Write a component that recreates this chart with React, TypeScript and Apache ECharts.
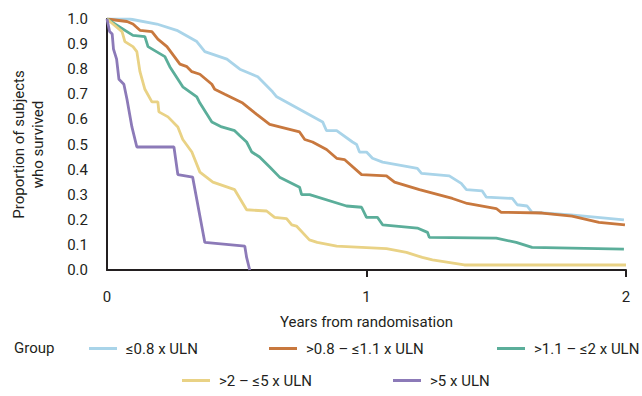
import React, { useEffect, useRef } from "react";
import * as echarts from "echarts";

const seriesNames = ["≤0.8 x ULN", ">0.8 – ≤1.1 x ULN", ">1.1 – ≤2 x ULN", ">2 – ≤5 x ULN", ">5 x ULN"];
const colors = ["#a9d4e9", "#c8783e", "#5bae9a", "#e9d285", "#8c7ab8"];

const blue: [number, number][] = [
  [0, 1.0], [0.088, 1.0], [0.192, 0.98], [0.269, 0.955], [0.346, 0.91], [0.377, 0.87], [0.462, 0.84],
  [0.512, 0.8], [0.581, 0.77], [0.638, 0.71], [0.654, 0.69], [0.831, 0.59], [0.846, 0.555], [0.885, 0.555],
  [0.946, 0.51], [0.962, 0.5], [0.973, 0.47], [1.0, 0.47], [1.023, 0.445], [1.062, 0.43], [1.196, 0.405],
  [1.212, 0.385], [1.319, 0.375], [1.365, 0.345], [1.385, 0.32], [1.446, 0.315], [1.462, 0.29],
  [1.562, 0.285], [1.581, 0.26], [1.619, 0.255], [1.638, 0.23], [1.788, 0.22], [1.992, 0.2],
];

const orange: [number, number][] = [
  [0, 1.0], [0.077, 0.99], [0.1, 0.98], [0.127, 0.955], [0.173, 0.95], [0.196, 0.92], [0.231, 0.89],
  [0.281, 0.82], [0.308, 0.81], [0.327, 0.79], [0.358, 0.78], [0.404, 0.74], [0.415, 0.72], [0.454, 0.7],
  [0.523, 0.665], [0.577, 0.62], [0.627, 0.58], [0.742, 0.55], [0.762, 0.52], [0.792, 0.51], [0.846, 0.48],
  [0.885, 0.445], [0.915, 0.44], [0.981, 0.38], [1.077, 0.375], [1.108, 0.35], [1.204, 0.32], [1.331, 0.285],
  [1.388, 0.265], [1.5, 0.245], [1.519, 0.23], [1.677, 0.227], [1.792, 0.215], [1.896, 0.19], [1.996, 0.18],
];

const green: [number, number][] = [
  [0, 1.0], [0.1, 0.935], [0.146, 0.93], [0.158, 0.89], [0.223, 0.85], [0.242, 0.81], [0.292, 0.73],
  [0.346, 0.69], [0.358, 0.665], [0.404, 0.59], [0.442, 0.57], [0.492, 0.555], [0.512, 0.535], [0.538, 0.51],
  [0.558, 0.47], [0.588, 0.45], [0.627, 0.41], [0.665, 0.37], [0.742, 0.33], [0.75, 0.3], [0.781, 0.3],
  [0.923, 0.255], [0.981, 0.25], [1.0, 0.21], [1.042, 0.21], [1.062, 0.18], [1.196, 0.167], [1.235, 0.15],
  [1.242, 0.13], [1.5, 0.127], [1.577, 0.11], [1.638, 0.09], [1.992, 0.083],
];

const yellow: [number, number][] = [
  [0, 1.0], [0.058, 0.95], [0.069, 0.91], [0.1, 0.89], [0.115, 0.87], [0.127, 0.79], [0.146, 0.72],
  [0.173, 0.67], [0.196, 0.67], [0.2, 0.63], [0.235, 0.61], [0.273, 0.57], [0.292, 0.52], [0.327, 0.47],
  [0.358, 0.39], [0.408, 0.35], [0.492, 0.32], [0.538, 0.24], [0.615, 0.235], [0.646, 0.21], [0.692, 0.205],
  [0.712, 0.18], [0.73, 0.175], [0.78, 0.12], [0.81, 0.11], [0.885, 0.095], [1.077, 0.085], [1.154, 0.07],
  [1.215, 0.05], [1.254, 0.04], [1.377, 0.02], [2.0, 0.02],
];

const purple: [number, number][] = [
  [0, 1.0], [0.01, 0.95], [0.02, 0.94], [0.025, 0.88], [0.037, 0.84], [0.046, 0.76], [0.065, 0.74],
  [0.077, 0.68], [0.096, 0.57], [0.115, 0.49], [0.258, 0.49], [0.273, 0.38], [0.33, 0.37], [0.377, 0.11],
  [0.531, 0.095], [0.538, 0.05], [0.55, 0.0],
];

const seriesData = [blue, orange, green, yellow, purple];

const xTicks = [1, 2];
const legendPositions = [
  { left: 89, top: 341 },
  { left: 269, top: 341 },
  { left: 497, top: 341 },
  { left: 182, top: 373 },
  { left: 393, top: 373 },
];

const FONT = "Roboto";
const TXT = "#231f20";

export default function App() {
  const ref = useRef<HTMLDivElement>(null);
  useEffect(() => {
    if (!ref.current) return;
    const chart = echarts.init(ref.current, null, { renderer: "svg" });
    chart.setOption({
      animation: false,
      textStyle: { fontFamily: FONT },
      grid: { left: 107, right: 16, top: 19, bottom: 126, containLabel: false, outerBoundsMode: "none" },
      xAxis: {
        type: "value",
        min: 0,
        max: 2,
        interval: 1,
        name: "Years from randomisation",
        nameLocation: "middle",
        nameGap: 44,
        nameTextStyle: { fontSize: 15, color: TXT, fontFamily: FONT },
        axisLine: { lineStyle: { color: TXT, width: 2 } },
        axisTick: { show: true, length: 7, lineStyle: { color: TXT, width: 2 }, customValues: xTicks },
        axisLabel: { fontSize: 15, color: TXT, margin: 19, fontFamily: FONT },
        splitLine: { show: false },
      },
      yAxis: {
        type: "value",
        min: 0,
        max: 1,
        interval: 0.1,
        name: "Proportion of subjects\nwho survived",
        nameLocation: "middle",
        nameGap: 60,
        nameTextStyle: { fontSize: 15, color: TXT, lineHeight: 19, fontFamily: FONT },
        axisLine: { show: true, lineStyle: { color: TXT, width: 2 } },
        axisTick: { show: false },
        axisLabel: {
          fontSize: 15,
          color: TXT,
          margin: 19,
          fontFamily: FONT,
          formatter: (v: number) => v.toFixed(1),
        },
        splitLine: { show: false },
      },
      legend: seriesNames.map((n, i) => ({
        data: [n],
        left: legendPositions[i].left,
        top: legendPositions[i].top,
        icon: "rect",
        itemWidth: 28,
        itemHeight: 3,
        padding: 0,
        textStyle: { fontSize: 15, color: TXT, fontFamily: FONT, padding: [0, 0, 0, 4] },
      })),
      graphic: [
        {
          type: "text",
          left: 14,
          top: 340,
          style: { text: "Group", fontSize: 15, fill: TXT, fontFamily: FONT },
        },
      ],
      series: seriesNames.map((n, i) => ({
        name: n,
        type: "line",
        data: seriesData[i],
        showSymbol: false,
        symbol: "none",
        lineStyle: { color: colors[i], width: 2.8 },
        itemStyle: { color: colors[i] },
      })),
    });
    return () => chart.dispose();
  }, []);
  return <div ref={ref} style={{ width: 642, height: 396, position: "absolute", left: 0, top: 0 }} />;
}
